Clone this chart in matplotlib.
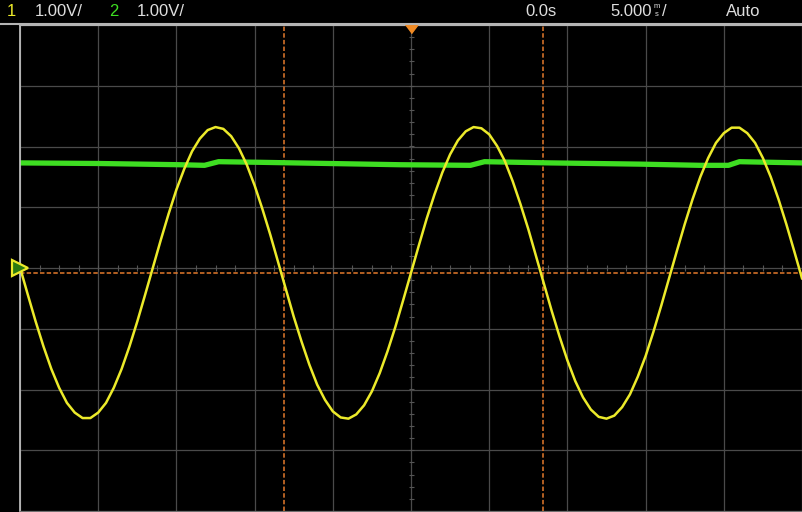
import matplotlib
matplotlib.use("Agg")
import matplotlib.pyplot as plt
import numpy as np
from matplotlib.lines import Line2D

plt.rcParams['font.family'] = ['Liberation Sans', 'DejaVu Sans']
plt.rcParams['lines.scale_dashes'] = False

# time base (ms) and channel 1 samples (V), every 0.5 ms
t_ms = [-25.0 + 0.5 * i for i in range(101)]
ch1_volts = [
    0.01, -0.44, -0.88, -1.29, -1.66, -1.97, -2.22, -2.38, -2.47, -2.47,
    -2.38, -2.22, -1.97, -1.66, -1.29, -0.88, -0.44, 0.01, 0.46, 0.89,
    1.29, 1.63, 1.92, 2.13, 2.27, 2.32, 2.29, 2.17, 1.97, 1.70,
    1.36, 0.97, 0.55, 0.10, -0.35, -0.80, -1.21, -1.59, -1.92, -2.17,
    -2.36, -2.46, -2.48, -2.41, -2.26, -2.03, -1.73, -1.37, -0.97, -0.53,
    -0.08,
    0.37, 0.81, 1.21, 1.57, 1.87, 2.10, 2.25, 2.32, 2.30, 2.20,
    2.01, 1.76, 1.43, 1.05, 0.64, 0.19, -0.26, -0.71, -1.13, -1.52,
    -1.86, -2.13, -2.33, -2.45, -2.48, -2.43, -2.29, -2.08, -1.79, -1.45,
    -1.05, -0.62, -0.17, 0.28, 0.72, 1.13, 1.50, 1.81, 2.06, 2.22,
    2.31, 2.31, 2.22, 2.06, 1.81, 1.50, 1.13, 0.72, 0.28, -0.17,
]

# channel 2: nearly flat level with small steps near the ch1 peaks
ch2_t = [-25.0, -19.9, -14.8, -13.2, -12.3, -9.7, -5.2, -0.7, 3.8, 4.7,
         8.9, 14.6, 18.5, 20.3, 21.0, 25.0]
ch2_volts = [1.73, 1.72, 1.70, 1.69, 1.75, 1.74, 1.72, 1.70, 1.69, 1.75,
             1.73, 1.71, 1.69, 1.69, 1.75, 1.73]

cursor_times = [-8.1, 8.45]
trigger_time = 0.0
trigger_level = -0.08

YELLOW = '#ecea2a'
GREEN = '#3ede22'
ORANGE = '#e47a2c'
GRID = '#4a4a4a'

W, H = 802, 512
fig = plt.figure(figsize=(W / 100, H / 100), dpi=100, facecolor='black')
ax = fig.add_axes([20 / W, 1 / H, 782 / W, 486 / H])
ax.set_facecolor('black')
ax.set_xlim(-25, 25)
ax.set_ylim(-4, 4)

# graticule
ax.set_xticks(np.arange(-25, 26, 5))
ax.set_yticks(np.arange(-4, 5, 1))
ax.grid(True, color=GRID, lw=0.9)
ax.tick_params(length=0, labelleft=False, labelbottom=False)
ax.spines['right'].set_visible(False)
ax.spines['left'].set_color('#c8c8c8')
ax.spines['left'].set_linewidth(1.2)
ax.spines['top'].set_color('#b4b4b4')
ax.spines['top'].set_linewidth(1.5)
ax.spines['bottom'].set_color('#707070')

# minor ticks on the centre cross
ym = np.arange(-4, 4.01, 0.2)
ax.plot(np.zeros_like(ym), ym, ls='none', marker='_', ms=3.6, mew=0.8, color='#555555')
xm = np.arange(-25, 25.01, 1.25)
ax.plot(xm, np.zeros_like(xm), ls='none', marker='|', ms=4.0, mew=0.8, color='#555555')

# cursors and trigger level
for ct in cursor_times:
    ax.axvline(ct, color=ORANGE, lw=1.1, dashes=(3.2, 1.6))
ax.axhline(trigger_level, color=ORANGE, lw=1.1, dashes=(3.2, 1.6))

# traces
ax.plot(ch2_t, ch2_volts, color=GREEN, lw=3.8, solid_joinstyle='round')
ax.plot(t_ms, ch1_volts, color=YELLOW, lw=1.8, solid_joinstyle='round')

# trigger position marker
ax.plot(trigger_time, 3.93, marker=[(-6, 4), (6, 4), (0, -4)], ms=9,
        color='#f08a24', clip_on=False, zorder=5)

# channel ground marker at the left edge
ax.plot(-25, 0, marker='>', ms=11, mfc='#2a7a10', mec=YELLOW, mew=1.6,
        clip_on=False, zorder=5)

# top line and status bar
fig.add_artist(Line2D([0, 1], [1 - 24 / H, 1 - 24 / H], color='#b4b4b4', lw=1.5))

def top(x, s, c='#dedede', size=12, ha='left'):
    fig.text(x / W, 1 - 11 / H, s, color=c, fontsize=size, ha=ha, va='center')

top(7, '1', YELLOW)
top(35, '1.00V/')
top(109, '2', GREEN)
top(137, '1.00V/')
top(525, '0.0s')
top(610, '5.000')
fig.text(657 / W, 1 - 7 / H, 'm', color='#dedede', fontsize=5.5, ha='center', va='center')
fig.text(657 / W, 1 - 15 / H, 's', color='#dedede', fontsize=5.5, ha='center', va='center')
top(662, '/')
top(726, 'Auto')

fig.savefig('out.png', dpi=100, facecolor='black')
